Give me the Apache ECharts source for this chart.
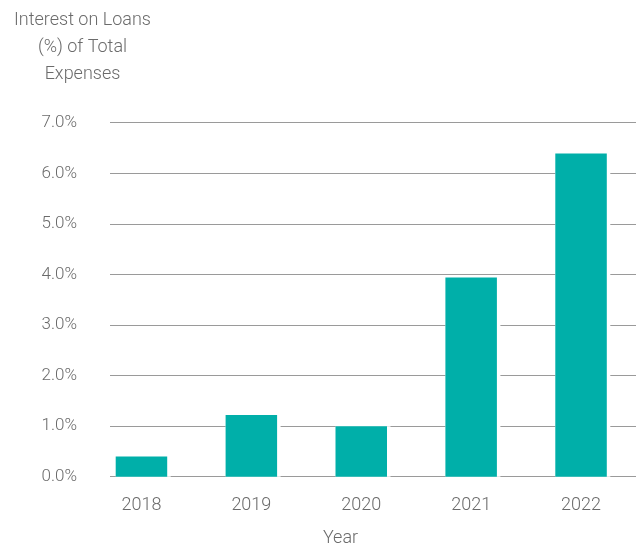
<!DOCTYPE html>
<html>
<head>
<meta charset="utf-8">
<script src="https://cdn.jsdelivr.net/npm/echarts@6/dist/echarts.min.js"></script>
<style>html,body{margin:0;padding:0;background:#fff}#c{width:636px;height:544px}</style>
</head>
<body>
<div id="c"></div>
<script>
const years = ['2018', '2019', '2020', '2021', '2022'];
const interestPct = [0.40, 1.22, 1.00, 3.94, 6.39];
const yTicks = { min: 0, max: 7, interval: 1 };
const yTitleLines = ['Interest on Loans', '(%) of Total', 'Expenses'];
const xTitle = 'Year';

const textColor = '#6b6b6b';
const fontFamily = 'Roboto, "Noto Sans", sans-serif';

const chart = echarts.init(document.getElementById('c'), null, { renderer: 'canvas' });
chart.setOption({
  backgroundColor: '#ffffff',
  animation: false,
  grid: [
    { left: 86.5, width: 550, top: 122.7, bottom: 67.3, containLabel: false },
    { left: 110, right: 0, top: 122.7, bottom: 67.3, containLabel: false }
  ],
  xAxis: [
    {
      type: 'category', gridIndex: 0, data: years,
      axisLine: { show: false }, axisTick: { show: false },
      axisLabel: { color: textColor, fontSize: 18, fontWeight: 300, fontFamily: fontFamily, margin: 20 }
    },
    {
      type: 'value', gridIndex: 1, min: 0, max: 1, show: false
    }
  ],
  yAxis: [
    {
      type: 'value', gridIndex: 0, min: yTicks.min, max: yTicks.max, interval: yTicks.interval,
      show: false, splitLine: { show: false }
    },
    {
      type: 'value', gridIndex: 1, min: yTicks.min, max: yTicks.max, interval: yTicks.interval,
      axisLine: { show: false }, axisTick: { show: false },
      axisLabel: {
        color: textColor, fontSize: 17, fontWeight: 300, fontFamily: fontFamily, margin: 33,
        formatter: v => v.toFixed(1) + '%'
      },
      splitLine: { show: true, lineStyle: { color: '#9a9a9a', width: 1 } }
    }
  ],
  series: [
    {
      type: 'bar', xAxisIndex: 0, yAxisIndex: 0, data: interestPct,
      barWidth: 55, barGap: '-100%',
      itemStyle: { color: '#ffffff' },
      silent: true, z: 2
    },
    {
      type: 'bar', xAxisIndex: 0, yAxisIndex: 0, data: interestPct,
      barWidth: 51.5, barGap: '-100%',
      itemStyle: { color: '#00AFA9' },
      z: 3
    }
  ],
  graphic: [
    {
      type: 'text', x: 82.5, y: 6.5,
      style: {
        text: yTitleLines.join('\n'), textAlign: 'center', textVerticalAlign: 'top',
        fill: textColor, font: '300 18px ' + fontFamily, lineHeight: 27
      }
    },
    {
      type: 'text', x: 340.5, y: 538,
      style: {
        text: xTitle, textAlign: 'center', textVerticalAlign: 'middle',
        fill: textColor, font: '300 18px ' + fontFamily
      }
    }
  ]
});
</script>
</body>
</html>
